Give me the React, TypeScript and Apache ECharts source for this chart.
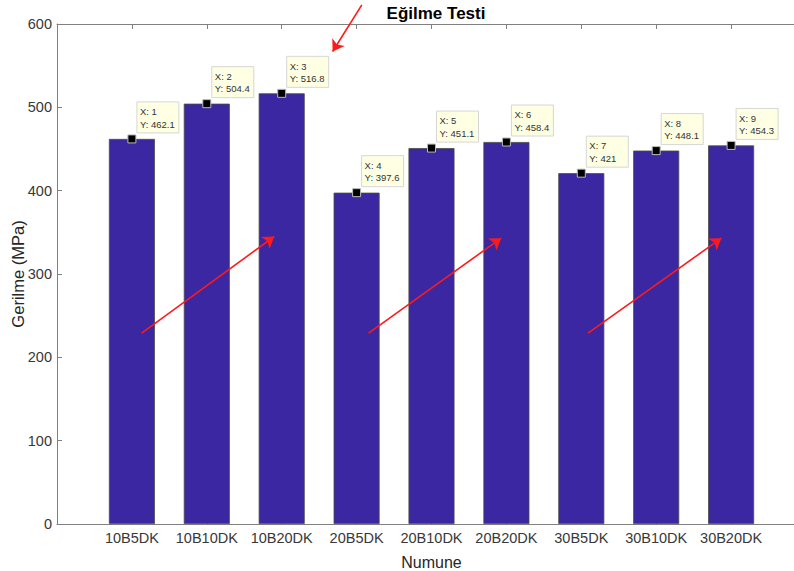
import React, { useEffect, useRef } from "react";
import * as echarts from "echarts";

const categories = ["10B5DK", "10B10DK", "10B20DK", "20B5DK", "20B10DK", "20B20DK", "30B5DK", "30B10DK", "30B20DK"];
const values = [462.1, 504.4, 516.8, 397.6, 451.1, 458.4, 421, 448.1, 454.3];
const yTicks = [0, 100, 200, 300, 400, 500, 600];
// annotation arrows in data coordinates: [x1, y1, x2, y2]
const arrows = [
  [1.13, 229, 2.9, 345],
  [4.16, 229, 5.93, 343],
  [7.09, 229, 8.87, 343],
  [4.07, 623, 3.68, 567],
];

const FONT = "'Liberation Sans', Arial, Helvetica, sans-serif";

export default function App() {
  const ref = useRef<HTMLDivElement>(null);
  useEffect(() => {
    if (!ref.current) return;
    const chart = echarts.init(ref.current, undefined, { renderer: "svg" });
    const points = values.map((v, i) => [i + 1, v]);
    chart.setOption({
      animation: false,
      backgroundColor: "#ffffff",
      title: {
        text: "Eğilme Testi",
        left: 431,
        textAlign: "center",
        top: 0,
        textStyle: { fontFamily: FONT, fontSize: 17, fontWeight: "bold", color: "#000" },
      },
      grid: { left: 57, top: 24, right: -12, bottom: 47, containLabel: false, outerBoundsMode: "none" },
      xAxis: [
        {
          type: "value",
          min: 0,
          max: 10,
          interval: 1,
          name: "Numune",
          nameLocation: "middle",
          nameGap: 30,
          nameMoveOverlap: false,
          nameTextStyle: { fontFamily: FONT, fontSize: 16, color: "#262626" },
          axisLine: { lineStyle: { color: "#808080", width: 1 } },
          axisTick: { inside: true, length: 5, lineStyle: { color: "#808080" } },
          axisLabel: {
            fontFamily: FONT,
            fontSize: 14.5,
            color: "#383838",
            margin: 6,
            formatter: (v: number) => (v >= 1 && v <= categories.length ? categories[v - 1] : ""),
          },
          splitLine: { show: false },
        },
        {
          type: "value",
          position: "top",
          min: 0,
          max: 10,
          interval: 1,
          axisLine: { show: true, lineStyle: { color: "#808080", width: 1 } },
          axisTick: { show: true, inside: true, length: 5, lineStyle: { color: "#808080" } },
          axisLabel: { show: false },
          splitLine: { show: false },
        },
      ],
      yAxis: {
        type: "value",
        min: yTicks[0],
        max: yTicks[yTicks.length - 1],
        interval: 100,
        name: "Gerilme (MPa)",
        nameLocation: "middle",
        nameGap: 31,
        nameMoveOverlap: false,
        nameTextStyle: { fontFamily: FONT, fontSize: 16.5, color: "#262626" },
        axisLine: { show: true, lineStyle: { color: "#808080", width: 1 } },
        axisTick: { show: true, inside: true, length: 5, lineStyle: { color: "#808080" } },
        axisLabel: { fontFamily: FONT, fontSize: 14.5, color: "#383838", margin: 5 },
        splitLine: { show: false },
      },
      series: [
        {
          type: "bar",
          data: points,
          barWidth: 46,
          itemStyle: { color: "#3B27A1", borderColor: "#4a4a4a", borderWidth: 0.8 },
          z: 2,
        },
        {
          type: "custom",
          data: points,
          z: 5,
          clip: false,
          renderItem: (params: any, api: any) => {
            const x = api.value(0);
            const y = api.value(1);
            const c = api.coord([x, y]);
            const bx = c[0] + 5;
            const bh = 31;
            const by = c[1] - 6 - bh;
            return {
              type: "group",
              children: [
                {
                  type: "rect",
                  shape: { x: bx, y: by, width: 42, height: bh },
                  style: { fill: "#FFFFE3", stroke: "#d6d6d6", lineWidth: 1 },
                },
                {
                  type: "text",
                  x: bx + 3,
                  y: by + 3.5,
                  style: {
                    text: "X: " + x + "\nY: " + y,
                    fontFamily: FONT,
                    fontSize: 9.5,
                    lineHeight: 12.5,
                    fill: "#333",
                    textVerticalAlign: "top",
                  },
                },
                {
                  type: "rect",
                  shape: { x: c[0] - 4, y: c[1] - 4, width: 8, height: 8 },
                  style: { fill: "#000", stroke: "#bbb", lineWidth: 1 },
                },
              ],
            };
          },
        },
        {
          type: "lines",
          coordinateSystem: "cartesian2d",
          clip: false,
          z: 6,
          symbol: ["none", "arrow"],
          symbolSize: 11,
          lineStyle: { color: "#ff1a1a", width: 1.6, opacity: 1 },
          data: arrows.map((a) => ({ coords: [[a[0], a[1]], [a[2], a[3]]] })),
        },
      ],
    });
    return () => chart.dispose();
  }, []);
  return (
    <div
      ref={ref}
      style={{ position: "fixed", left: 0, top: 0, width: 794, height: 571, overflow: "hidden" }}
    />
  );
}
